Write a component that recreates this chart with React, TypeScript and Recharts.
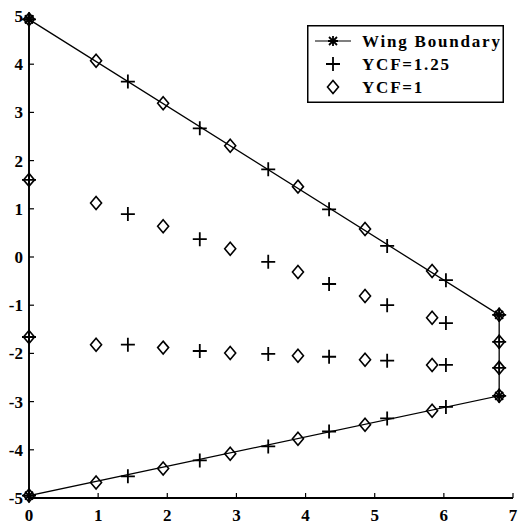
import React from 'react';
import { ScatterChart, Scatter, XAxis, YAxis } from 'recharts';

// wing outline (tip chord at x = 6.8)
const wingX = [0, 6.8, 6.8, 0, 0];
const wingY = [4.93, -1.2, -2.88, -4.95, 4.93];

// YCF = 1 grid points (diamonds)
const ycf1X = [0, 0.97, 1.94, 2.91, 3.89, 4.86, 5.83, 6.8];
const ycf1Lead = [4.93, 4.07, 3.19, 2.31, 1.46, 0.58, -0.29, -1.2];
const ycf1Upper = [1.6, 1.12, 0.64, 0.17, -0.31, -0.81, -1.26, -1.76];
const ycf1Lower = [-1.66, -1.82, -1.88, -1.99, -2.05, -2.13, -2.24, -2.3];
const ycf1Trail = [-4.95, -4.68, -4.39, -4.08, -3.77, -3.48, -3.19, -2.88];

// YCF = 1.25 grid points (pluses)
const ycf125X = [0, 1.43, 2.47, 3.46, 4.34, 5.18, 6.03, 6.8];
const ycf125Lead = [4.93, 3.64, 2.67, 1.82, 0.99, 0.23, -0.48, -1.2];
const ycf125Upper = [1.6, 0.89, 0.37, -0.1, -0.56, -1.0, -1.37, -1.76];
const ycf125Lower = [-1.66, -1.82, -1.95, -2.01, -2.07, -2.15, -2.24, -2.3];
const ycf125Trail = [-4.95, -4.55, -4.22, -3.93, -3.62, -3.35, -3.11, -2.88];

const xTicks = [0, 1, 2, 3, 4, 5, 6, 7];
const yTicks = [-5, -4, -3, -2, -1, 0, 1, 2, 3, 4, 5];

const FONT = "'Liberation Serif', 'DejaVu Serif', serif";
const textStyle = { fontFamily: FONT, fontSize: 17, fontWeight: 700 };

const toPoints = (xs: number[], ys: number[]) => xs.map((x, i) => ({ x, y: ys[i] }));

const wingData = toPoints(wingX, wingY);
const ycf1Data = [ycf1Lead, ycf1Upper, ycf1Lower, ycf1Trail].flatMap(row => toPoints(ycf1X, row));
const ycf125Data = [ycf125Lead, ycf125Upper, ycf125Lower, ycf125Trail].flatMap(row => toPoints(ycf125X, row));

const Diamond = ({ cx, cy }: any) => (
  <path
    d={`M${cx},${cy - 6.5} L${cx + 5.5},${cy} L${cx},${cy + 6.5} L${cx - 5.5},${cy} Z`}
    fill="none"
    stroke="#000"
    strokeWidth={1.6}
  />
);

const Plus = ({ cx, cy }: any) => (
  <path d={`M${cx - 7},${cy} H${cx + 7} M${cx},${cy - 7} V${cy + 7}`} stroke="#000" strokeWidth={1.8} />
);

const Star = ({ cx, cy }: any) => (
  <path
    d={`M${cx - 5},${cy} H${cx + 5} M${cx},${cy - 5} V${cy + 5} M${cx - 4},${cy - 4} L${cx + 4},${cy + 4} M${cx - 4},${cy + 4} L${cx + 4},${cy - 4}`}
    stroke="#000"
    strokeWidth={1.8}
  />
);

const BottomTick = ({ x, y, payload }: any) => (
  <g>
    <line x1={x} y1={y} x2={x} y2={y - 5} stroke="#000" strokeWidth={1.2} />
    <text x={x} y={y + 23} textAnchor="middle" style={textStyle} fill="#000">
      {payload.value}
    </text>
  </g>
);

const TopTick = ({ x, y }: any) => <line x1={x} y1={y} x2={x} y2={y + 5} stroke="#000" strokeWidth={1.2} />;

const LeftTick = ({ x, y, payload }: any) => (
  <g>
    <line x1={x} y1={y} x2={x + 5} y2={y} stroke="#000" strokeWidth={1.2} />
    <text x={x - 6} y={y + 6} textAnchor="end" style={textStyle} fill="#000">
      {payload.value}
    </text>
  </g>
);

const RightTick = ({ x, y }: any) => <line x1={x} y1={y} x2={x - 5} y2={y} stroke="#000" strokeWidth={1.2} />;

const legendRows = [
  { label: 'Wing Boundary', kind: 'wing' },
  { label: 'YCF=1.25', kind: 'plus' },
  { label: 'YCF=1', kind: 'diamond' }
];

const LegendBox = () => (
  <svg width={197} height={78} style={{ position: 'absolute', left: 307, top: 25, display: 'block' }}>
    <rect x={0.75} y={0.75} width={195.5} height={76.5} fill="#fff" stroke="#000" strokeWidth={1.5} />
    {legendRows.map((row, i) => {
      const cy = 16 + i * 23;
      const cx = 26;
      return (
        <g key={row.label}>
          {row.kind === 'wing' && (
            <>
              <line x1={8} y1={cy} x2={44} y2={cy} stroke="#000" strokeWidth={1.2} />
              <Star cx={cx} cy={cy} />
            </>
          )}
          {row.kind === 'plus' && <Plus cx={cx} cy={cy} />}
          {row.kind === 'diamond' && <Diamond cx={cx} cy={cy} />}
          <text x={55} y={cy + 6} style={{ ...textStyle, letterSpacing: 1.8 }} fill="#000">
            {row.label}
          </text>
        </g>
      );
    })}
  </svg>
);

export default function App() {
  return (
    <div style={{ position: 'absolute', left: 0, top: 0, width: 523, height: 529, background: '#fff' }}>
      <ScatterChart width={523} height={529} margin={{ top: 16, right: 10, bottom: 0, left: 0 }}>
        <XAxis
          dataKey="x"
          type="number"
          domain={[0, 7]}
          ticks={xTicks}
          height={31}
          tickSize={0}
          tickMargin={0}
          tickLine={false}
          axisLine={{ stroke: '#000', strokeWidth: 1.8 }}
          tick={<BottomTick />}
        />
        <XAxis
          xAxisId="top"
          orientation="top"
          type="number"
          domain={[0, 7]}
          ticks={xTicks}
          height={0}
          tickSize={0}
          tickMargin={0}
          tickLine={false}
          axisLine={{ stroke: '#000', strokeWidth: 1.8 }}
          tick={<TopTick />}
        />
        <YAxis
          dataKey="y"
          type="number"
          domain={[-5, 5]}
          ticks={yTicks}
          width={29}
          tickSize={0}
          tickMargin={0}
          tickLine={false}
          axisLine={{ stroke: '#000', strokeWidth: 1.8 }}
          tick={<LeftTick />}
        />
        <YAxis
          yAxisId="right"
          orientation="right"
          type="number"
          domain={[-5, 5]}
          ticks={yTicks}
          width={0}
          tickSize={0}
          tickMargin={0}
          tickLine={false}
          axisLine={{ stroke: '#000', strokeWidth: 1.8 }}
          tick={<RightTick />}
        />
        <Scatter
          name="Wing Boundary"
          data={wingData}
          line={{ stroke: '#000', strokeWidth: 1.3 }}
          shape={<Star />}
          isAnimationActive={false}
        />
        <Scatter name="YCF=1" data={ycf1Data} shape={<Diamond />} isAnimationActive={false} />
        <Scatter name="YCF=1.25" data={ycf125Data} shape={<Plus />} isAnimationActive={false} />
      </ScatterChart>
      <LegendBox />
    </div>
  );
}
